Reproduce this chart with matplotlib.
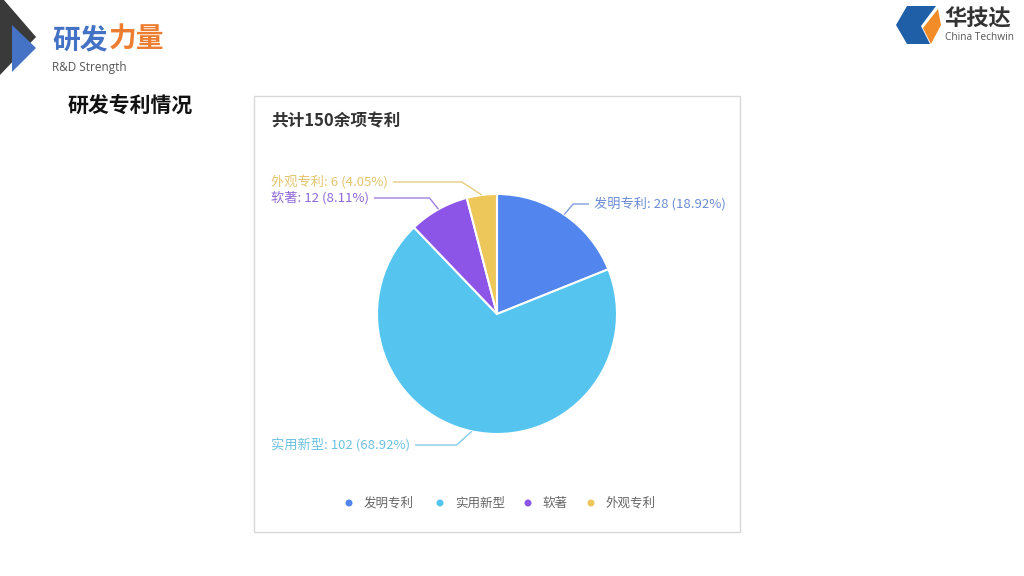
import numpy as np
import matplotlib
matplotlib.use("Agg")
import matplotlib.pyplot as plt
from matplotlib.patches import Polygon, Rectangle, Circle

plt.rcParams['font.family'] = ['Noto Sans CJK SC', 'DejaVu Sans']

# ---- data ----
categories = ['发明专利', '实用新型', '软著', '外观专利']
counts = [28, 102, 12, 6]
percent_labels = ['18.92%', '68.92%', '8.11%', '4.05%']
colors = ['#5285EE', '#55C5EF', '#8C55E8', '#EDC75A']
label_colors = ['#6A8CD4', '#6CC2E0', '#8F6AD8', '#E3C46C']
chart_title = '共计150余项专利'

W, H = 1024, 576
fig = plt.figure(figsize=(W / 100, H / 100), dpi=100)
ax = fig.add_axes([0, 0, 1, 1])
ax.set_xlim(0, W)
ax.set_ylim(0, H)
ax.axis('off')


def Y(py):
    return H - py


# ---- slide decorations ----
ax.add_patch(Polygon([(0, Y(0)), (4, Y(0)), (36, Y(37)), (0, Y(75))],
                     closed=True, color='#3A3A3A', lw=0))
ax.add_patch(Polygon([(12, Y(25)), (36, Y(48)), (12, Y(72))],
                     closed=True, color='#4472C4', lw=0))
ax.text(52, Y(40), '研发', color='#4472C4', fontsize=20, fontweight='bold',
        va='center', ha='left')
ax.text(109, Y(40), '力量', color='#ED7D31', fontsize=20, fontweight='bold',
        va='center', ha='left')
ax.text(52, Y(68), 'R&D Strength', color='#555555', fontsize=8.5,
        va='center', ha='left', family=['Open Sans', 'DejaVu Sans'])
ax.text(68, Y(105), '研发专利情况', color='#111111', fontsize=15,
        fontweight='bold', va='center', ha='left')

# logo
ax.add_patch(Polygon([(907, Y(6)), (936, Y(6)), (921, Y(26)), (930, Y(44)),
                      (907, Y(44)), (896, Y(25))], closed=True,
                     color='#1F5FA8', lw=0))
ax.add_patch(Polygon([(938, Y(9)), (941, Y(25)), (931, Y(44)), (923, Y(28))],
                     closed=True, color='#F28C28', lw=0))
ax.text(944, Y(19), '华技达', color='#333333', fontsize=16, fontweight='bold',
        va='center', ha='left')
ax.text(945, Y(38), 'China Techwin', color='#555555', fontsize=7.3,
        va='center', ha='left', family=['Open Sans', 'DejaVu Sans'])

# ---- chart card ----
ax.add_patch(Rectangle((254, Y(532)), 486, 436, facecolor='white',
                       edgecolor='#D9D9D9', lw=1.0))
ax.text(271, Y(121), chart_title, color='#333333', fontsize=12,
        fontweight='bold', va='center', ha='left')

# ---- pie ----
cx, cy, R = 497, Y(314), 120
wedges, _ = ax.pie(counts, colors=colors, startangle=90, counterclock=False,
                   center=(cx, cy), radius=R, frame=True,
                   wedgeprops=dict(edgecolor='white', linewidth=1.5))
ax.set_xlim(0, W)
ax.set_ylim(0, H)
ax.set_aspect('auto')
ax.axis('off')

# label layout (pixel y of label, elbow x-offset, side)
label_y = [204, 445, 198, 182]
elbow_dx = [9, -15, -9, -20]
sides = ['right', 'left', 'left', 'left']

fig.canvas.draw()
renderer = fig.canvas.get_renderer()
for w, cat, c, p, col, ly, edx, side in zip(wedges, categories, counts,
                                             percent_labels, label_colors,
                                             label_y, elbow_dx, sides):
    mid = np.deg2rad((w.theta1 + w.theta2) / 2)
    ex, ey = cx + R * np.cos(mid), cy + R * np.sin(mid)
    bx, by = ex + edx, Y(ly)
    txt = f'{cat}: {c} ({p})'
    if side == 'right':
        t = ax.text(594, by, txt, color=col, fontsize=9.5, va='center',
                    ha='left')
        hx = 589
    else:
        t = ax.text(271, by, txt, color=col, fontsize=9.5, va='center',
                    ha='left')
        bb = t.get_window_extent(renderer)
        hx = bb.x1 + 5
    ax.plot([ex, bx, hx], [ey, by, by], color=col, lw=1.0, alpha=0.85,
            solid_capstyle='butt')

# ---- legend ----
leg_dot_x = [349, 440, 528, 591]
for cat, col, lx in zip(categories, colors, leg_dot_x):
    ax.add_patch(Circle((lx, Y(503)), 3.5, color=col, lw=0))
    ax.text(lx + 15, Y(503), cat, color='#666666', fontsize=9, va='center',
            ha='left')

fig.savefig('out.png', dpi=100, facecolor='white')
